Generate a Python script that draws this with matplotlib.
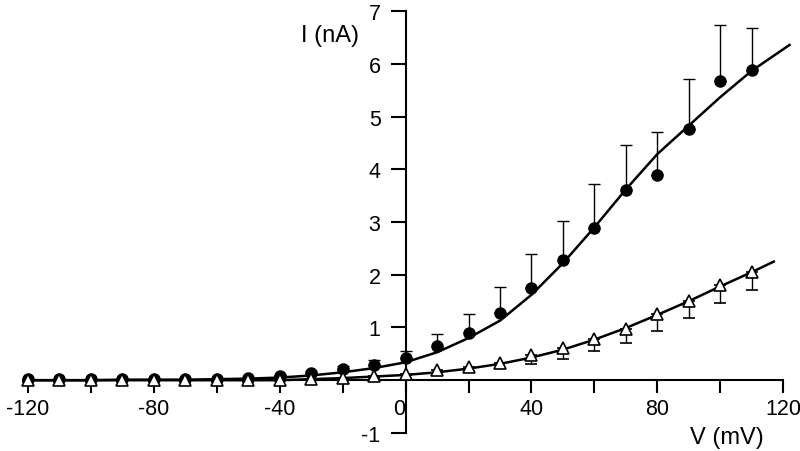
import matplotlib.pyplot as plt
import numpy as np

plt.rcParams['font.family'] = ['Liberation Sans', 'DejaVu Sans']
plt.rcParams['axes.unicode_minus'] = False

# measured points, every 10 mV
v = [-120, -110, -100, -90, -80, -70, -60, -50, -40, -30, -20, -10,
     0, 10, 20, 30, 40, 50, 60, 70, 80, 90, 100, 110]
i_filled = [0.02, 0.02, 0.02, 0.02, 0.03, 0.03, 0.03, 0.05, 0.08, 0.14, 0.21, 0.29,
            0.42, 0.65, 0.9, 1.27, 1.74, 2.28, 2.89, 3.61, 3.89, 4.77, 5.67, 5.88]
err_filled = [0, 0, 0, 0, 0, 0, 0, 0, 0.02, 0.03, 0.05, 0.09,
              0.14, 0.23, 0.35, 0.5, 0.66, 0.74, 0.83, 0.86, 0.82, 0.94, 1.06, 0.81]
i_open = [0.0, 0.0, 0.0, 0.0, 0.0, 0.0, 0.0, 0.0, 0.01, 0.03, 0.05, 0.08,
          0.12, 0.19, 0.25, 0.33, 0.47, 0.62, 0.79, 0.98, 1.26, 1.5, 1.81, 2.06]
err_open = [0.03, 0.03, 0.03, 0.03, 0.03, 0.03, 0.03, 0.03, 0.03, 0.03, 0.03, 0.03,
            0.03, 0.09, 0.08, 0.1, 0.17, 0.22, 0.24, 0.27, 0.32, 0.32, 0.34, 0.35]

# fitted curves
fit1_v = [-120, -110, -100, -90, -80, -70, -60, -50, -40, -30, -20, -10,
          0, 10, 20, 30, 40, 50, 60, 70, 80, 90, 100, 110, 122]
fit1_i = [0.0, 0.0, 0.0, 0.01, 0.01, 0.01, 0.02, 0.03, 0.05, 0.09, 0.15, 0.23,
          0.34, 0.53, 0.8, 1.13, 1.62, 2.22, 2.9, 3.62, 4.29, 4.83, 5.37, 5.87, 6.36]
fit2_v = [-120, -100, -80, -60, -40, -30, -20, -10,
          0, 10, 20, 30, 40, 50, 60, 70, 80, 90, 100, 110, 117]
fit2_i = [0.0, 0.0, 0.0, 0.0, 0.0, 0.02, 0.04, 0.07,
          0.1, 0.15, 0.22, 0.31, 0.43, 0.58, 0.77, 0.99, 1.24, 1.5, 1.78, 2.05, 2.25]

fig = plt.figure(figsize=(8, 4.52), dpi=100)
ax = fig.add_axes([0.035, 0.04, 0.944, 0.933])

ax.plot(fit1_v, fit1_i, color='black', lw=1.8, zorder=2, clip_on=False)
ax.plot(fit2_v, fit2_i, color='black', lw=1.8, zorder=2, clip_on=False)

ax.errorbar(v, i_filled, yerr=[np.zeros(len(v)), err_filled], fmt='o',
            color='black', ms=8, elinewidth=1, capsize=4, capthick=1,
            zorder=3, clip_on=False)
ax.errorbar(v, i_open, yerr=[err_open, np.zeros(len(v))], fmt='^',
            color='black', mfc='white', mec='black', mew=1.2, ms=9,
            elinewidth=1, capsize=4, capthick=1, zorder=4, clip_on=False)

ax.set_xlim(-120, 120)
ax.set_ylim(-1, 7)
ax.spines['left'].set_position(('data', 0))
ax.spines['bottom'].set_position(('data', 0))
ax.spines['top'].set_visible(False)
ax.spines['right'].set_visible(False)
ax.spines['left'].set_linewidth(1.5)
ax.spines['bottom'].set_linewidth(1.5)

ax.set_xticks([-120, -80, -40, 0, 40, 80, 120])
ax.set_xticks([-100, -60, -20, 20, 60, 100], minor=True)
ax.set_yticks([-1, 1, 2, 3, 4, 5, 6, 7])
ax.tick_params(axis='x', which='both', direction='out', length=9, width=1.5,
               labelsize=15.5, pad=4)
ax.tick_params(axis='y', direction='out', length=11, width=1.5,
               labelsize=15.5, pad=7)
for lab in ax.get_xticklabels():
    if lab.get_text() == '0':
        lab.set_horizontalalignment('right')

ax.text(-24, 6.54, 'I (nA)', fontsize=17, ha='center', va='center')
ax.text(102, -1.08, 'V (mV)', fontsize=17, ha='center', va='center')

fig.savefig('out.png', dpi=100)
